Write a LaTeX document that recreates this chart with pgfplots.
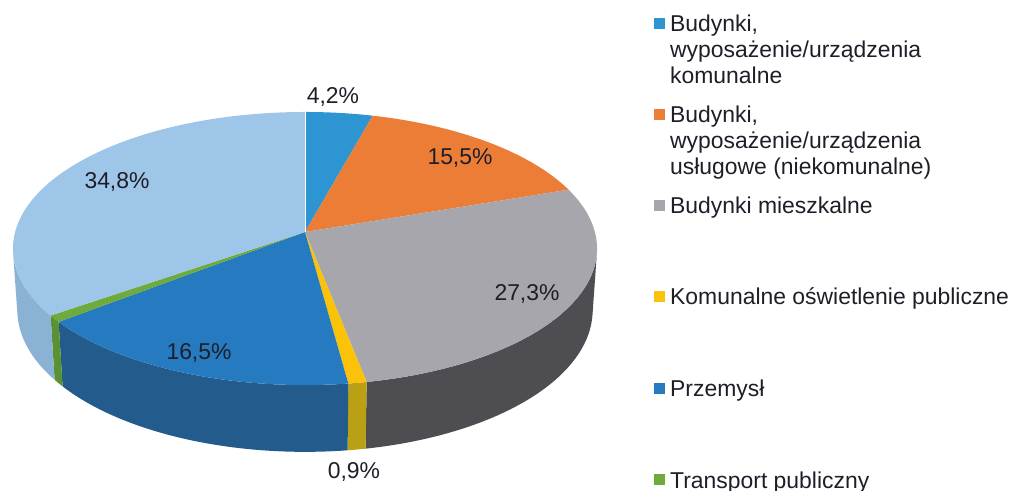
\documentclass[border=0pt]{standalone}
\usepackage{fontspec}
\setmainfont{Liberation Sans}
\usepackage{pgfplots}
\pgfplotsset{compat=1.18}

\definecolor{cKom}{RGB}{45,150,210}
\definecolor{cUsl}{RGB}{236,125,55}
\definecolor{cMie}{RGB}{166,166,172}
\definecolor{cMieS}{RGB}{78,78,82}
\definecolor{cOsw}{RGB}{250,195,10}
\definecolor{cOswS}{RGB}{185,160,20}
\definecolor{cPrz}{RGB}{38,122,192}
\definecolor{cPrzS}{RGB}{35,92,140}
\definecolor{cTra}{RGB}{110,170,60}
\definecolor{cTraS}{RGB}{90,145,50}
\definecolor{cPry}{RGB}{158,198,233}
\definecolor{cPryS}{RGB}{138,178,213}
\definecolor{txt}{RGB}{30,30,40}

% shares in percent (clockwise from 12 o'clock)
\def\vA{4.2}
\def\vB{15.5}
\def\vC{27.3}
\def\vD{0.9}
\def\vE{16.5}
\def\vF{0.8}
\def\vG{34.8}

% top face of a slice, perspective view
\newcommand{\slicetop}[3]{%
  \fill[#3] (305,259) -- plot[domain=#1:#2, samples=60]
    ({305+2125*sin(\x)/(7.33+0.887*cos(\x))},{259+986.2*cos(\x)/(7.33+0.887*cos(\x))}) -- cycle;}
% visible side wall of a slice
\newcommand{\sliceside}[3]{%
  \fill[#3] plot[domain=#1:#2, samples=50]
    ({305+2125*sin(\x)/(7.33+0.887*cos(\x))},{259+986.2*cos(\x)/(7.33+0.887*cos(\x))})
    -- plot[domain=#2:#1, samples=50]
    ({305+2125*sin(\x)/(7.44+0.887*cos(\x))},{259+2144*(0.46*cos(\x)-0.212)/(7.44+0.887*cos(\x))}) -- cycle;}

\newcommand{\lf}{\fontsize{23}{26}\selectfont}

\begin{document}
\begin{tikzpicture}
\pgfmathsetmacro\aA{0}
\pgfmathsetmacro\aB{\aA+3.6*\vA}
\pgfmathsetmacro\aC{\aB+3.6*\vB}
\pgfmathsetmacro\aD{\aC+3.6*\vC}
\pgfmathsetmacro\aE{\aD+3.6*\vD}
\pgfmathsetmacro\aF{\aE+3.6*\vE}
\pgfmathsetmacro\aG{\aF+3.6*\vF}
\pgfmathsetmacro\aH{360}
\begin{axis}[width=1011bp, height=491bp, scale only axis,
  xmin=0, xmax=1011, ymin=0, ymax=491, hide axis, clip=false]
% side walls (visible part)
\sliceside{99}{\aD}{cMieS}
\sliceside{\aD}{\aE}{cOswS}
\sliceside{\aE}{\aF}{cPrzS}
\sliceside{\aF}{\aG}{cTraS}
\sliceside{\aG}{261}{cPryS}
% top faces
\slicetop{\aA}{\aB}{cKom}
\slicetop{\aB}{\aC}{cUsl}
\slicetop{\aC}{\aD}{cMie}
\slicetop{\aD}{\aE}{cOsw}
\slicetop{\aE}{\aF}{cPrz}
\slicetop{\aF}{\aG}{cTra}
\slicetop{\aG}{\aH}{cPry}
\draw[white, line width=1pt] (305,259) -- (305,379);
% data labels
\node[anchor=base, font=\lf, text=txt] at (333,387) {4,2\%};
\node[anchor=base, font=\lf, text=txt] at (460,326) {15,5\%};
\node[anchor=base, font=\lf, text=txt] at (527,190) {27,3\%};
\node[anchor=base, font=\lf, text=txt] at (354,13) {0,9\%};
\node[anchor=base, font=\lf, text=txt] at (199,131) {16,5\%};
\node[anchor=base, font=\lf, text=txt] at (117,302.5) {34,8\%};
% legend
\fill[cKom] (654,461.5) rectangle (665,472.5);
\node[anchor=base west, font=\lf, text=txt, inner sep=0pt] at (670,459) {Budynki,};
\node[anchor=base west, font=\lf, text=txt, inner sep=0pt] at (670,433) {wyposażenie/urządzenia};
\node[anchor=base west, font=\lf, text=txt, inner sep=0pt] at (670,407) {komunalne};
\fill[cUsl] (654,370.5) rectangle (665,381.5);
\node[anchor=base west, font=\lf, text=txt, inner sep=0pt] at (670,368) {Budynki,};
\node[anchor=base west, font=\lf, text=txt, inner sep=0pt] at (670,342) {wyposażenie/urządzenia};
\node[anchor=base west, font=\lf, text=txt, inner sep=0pt] at (670,316) {usługowe (niekomunalne)};
\fill[cMie] (654,279.5) rectangle (665,290.5);
\node[anchor=base west, font=\lf, text=txt, inner sep=0pt] at (670,277) {Budynki mieszkalne};
\fill[cOsw] (654,188.5) rectangle (665,199.5);
\node[anchor=base west, font=\lf, text=txt, inner sep=0pt] at (670,186) {Komunalne oświetlenie publiczne};
\fill[cPrz] (654,96.5) rectangle (665,107.5);
\node[anchor=base west, font=\lf, text=txt, inner sep=0pt] at (670,94) {Przemysł};
\fill[cTra] (654,5.5) rectangle (665,16.5);
\node[anchor=base west, font=\lf, text=txt, inner sep=0pt] at (670,3) {Transport publiczny};
\end{axis}
\pgfresetboundingbox
\useasboundingbox (0,0) rectangle (1011bp,491bp);
\end{tikzpicture}
\end{document}
